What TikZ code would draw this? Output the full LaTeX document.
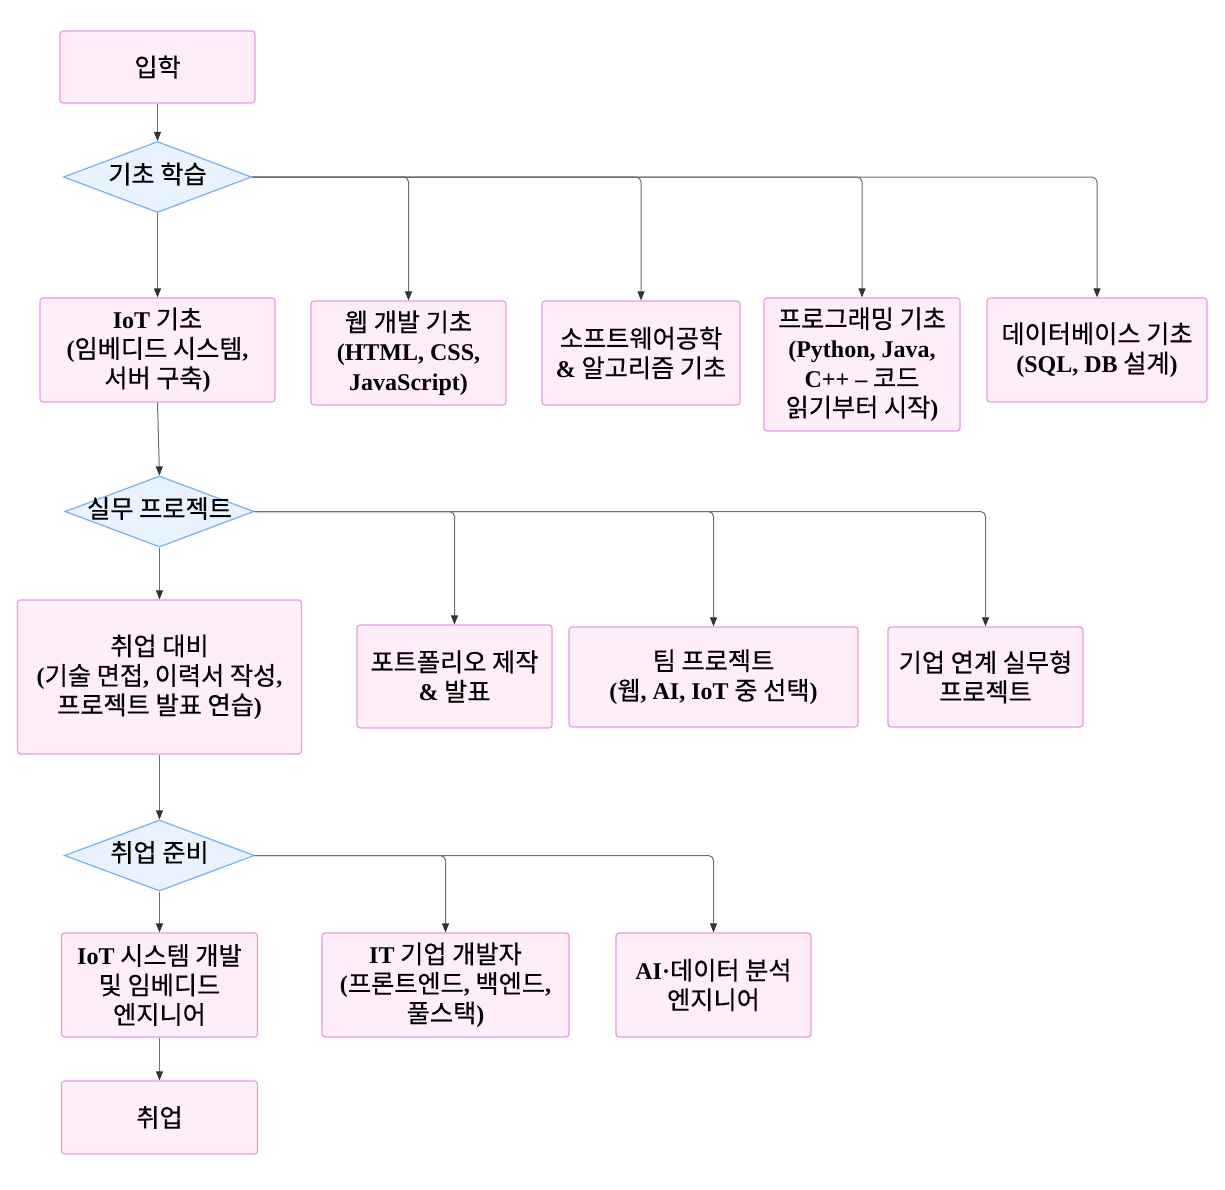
\documentclass[tikz,border=0pt]{standalone}
\usepackage{fontspec}
\setmainfont{Liberation Serif}
\newfontfamily\krf[Scale=1.05,FakeBold=0.4]{Noto Sans CJK KR}
\newfontfamily\enf{Liberation Serif}
\newcommand\E[1]{{\enf\bfseries #1}}
\usetikzlibrary{shapes.geometric,arrows.meta}
\definecolor{boxfill}{HTML}{FFEEF9}
\definecolor{boxdraw}{HTML}{E79BE2}
\definecolor{diafill}{HTML}{E8F3FF}
\definecolor{diadraw}{HTML}{78B0EA}
\definecolor{edgecol}{HTML}{6E6E6E}
\definecolor{tipcol}{HTML}{333333}
\begin{document}
\begin{tikzpicture}[x=1pt,y=-1pt,
  txt/.style={font=\krf\fontsize{24}{29.5}\selectfont, align=center, text=black},
  box/.style={txt, draw=boxdraw, fill=boxfill, line width=1.2pt, rounded corners=3pt, inner sep=0pt},
  dia/.style={diamond, draw=diadraw, fill=diafill, line width=1.2pt, inner sep=0pt},
  edge/.style={draw=edgecol, line width=1pt, rounded corners=5pt, -{Triangle[length=9pt,width=7pt,color=tipcol]}}]
\fill[white] (0,0) rectangle (1225,1189);
\useasboundingbox (0,0) rectangle (1225,1189);

% column 1
\node[box, minimum width=195, minimum height=72] (n1) at (157.5,67) {입학};
\node[dia, minimum width=188, minimum height=71, label={[txt,name=d1t,yshift=3pt]center:기초 학습}] (d1) at (157.5,177) {};

% basics row
\node[box, minimum width=235, minimum height=104] (b1) at (157.5,350) {\E{IoT} 기초\\\E{(}임베디드 시스템\E{,}\\서버 구축\E{)}};
\node[box, minimum width=195, minimum height=104] (b2) at (408.5,353) {웹 개발 기초\\\E{(HTML, CSS,}\\\E{JavaScript)}};
\node[box, minimum width=198, minimum height=104] (b3) at (641,353) {소프트웨어공학\\\E{\&} 알고리즘 기초};
\node[box, minimum width=196, minimum height=133] (b4) at (862,364.5) {프로그래밍 기초\\\E{(Python, Java,}\\\E{C++ –} 코드\\읽기부터 시작\E{)}};
\node[box, minimum width=220, minimum height=104] (b5) at (1097,350) {데이터베이스 기초\\\E{(SQL, DB} 설계\E{)}};

% practice
\node[dia, minimum width=189, minimum height=71, label={[txt,name=d2t,yshift=3pt]center:실무 프로젝트}] (d2) at (159.5,511.5) {};
\node[box, minimum width=284, minimum height=154] (c1) at (159.5,677) {취업 대비\\\E{(}기술 면접\E{,} 이력서 작성\E{,}\\프로젝트 발표 연습\E{)}};
\node[box, minimum width=195, minimum height=103] (c2) at (454.5,676.5) {포트폴리오 제작\\\E{\&} 발표};
\node[box, minimum width=289, minimum height=100] (c3) at (713.5,677) {팀 프로젝트\\\E{(}웹\E{, AI, IoT} 중 선택\E{)}};
\node[box, minimum width=195, minimum height=100] (c4) at (985.5,677) {기업 연계 실무형\\프로젝트};

% job prep
\node[dia, minimum width=190, minimum height=71, label={[txt,name=d3t,yshift=3pt]center:취업 준비}] (d3) at (159.5,855.5) {};
\node[box, minimum width=196, minimum height=104] (e1) at (159.5,985) {\E{IoT} 시스템 개발\\및 임베디드\\엔지니어};
\node[box, minimum width=247, minimum height=104] (e2) at (445.5,985) {\E{IT} 기업 개발자\\\E{(}프론트엔드\E{,} 백엔드\E{,}\\풀스택\E{)}};
\node[box, minimum width=195, minimum height=104] (e3) at (713.5,985) {\E{AI·}데이터 분석\\엔지니어};
\node[box, minimum width=196, minimum height=73] (f1) at (159.5,1117.5) {취업};

% edges
\draw[edge] (n1.south) -- (d1.north);
\draw[edge] (d1.south) -- (b1.north);
\draw[edge] (d1.east) -| (b2.north);
\draw[edge] (d1.east) -| (b3.north);
\draw[edge] (d1.east) -| (b4.north);
\draw[edge] (d1.east) -| (b5.north);
\draw[edge] (b1.south) -- (d2.north);
\draw[edge] (d2.south) -- (c1.north);
\draw[edge] (d2.east) -| (c2.north);
\draw[edge] (d2.east) -| (c3.north);
\draw[edge] (d2.east) -| (c4.north);
\draw[edge] (c1.south) -- (d3.north);
\draw[edge] (d3.south) -- (e1.north);
\draw[edge] (d3.east) -| (e2.north);
\draw[edge] (d3.east) -| (e3.north);
\draw[edge] (e1.south) -- (f1.north);
\end{tikzpicture}
\end{document}
